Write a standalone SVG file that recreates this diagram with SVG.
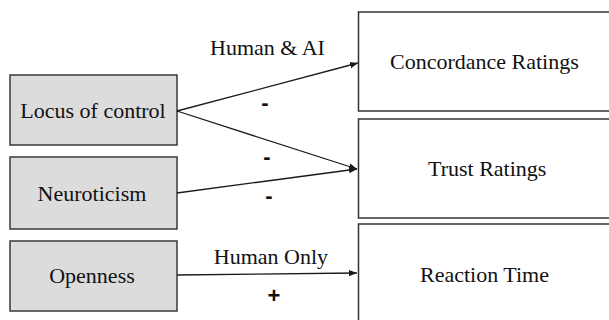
<svg xmlns="http://www.w3.org/2000/svg" width="609" height="320" viewBox="0 0 609 320">
<style>
.src rect{fill:#dcdcdc;stroke:#3a3a3a;stroke-width:1.5}
.dst rect{fill:#ffffff;stroke:#333;stroke-width:1.5}
text{font-family:"Liberation Serif","Times New Roman",serif;font-size:22px;fill:#111}
.mid{text-anchor:middle}
.sign{font-family:"Liberation Sans",Arial,sans-serif;font-weight:bold;text-anchor:middle}
.conn line{stroke:#1a1a1a;stroke-width:1.3;marker-end:url(#ah)}
</style>
<defs>
<marker id="ah" viewBox="0 0 10 10" refX="10" refY="5" markerWidth="8" markerHeight="8" markerUnits="userSpaceOnUse" orient="auto">
<path d="M0,1 L10,5 L0,9 z" fill="#1a1a1a"/>
</marker>
</defs>
<rect width="609" height="320" fill="#fff"/>
<g id="locus" class="src"><rect x="10" y="75" width="167" height="70"/><text class="mid" x="93" y="118">Locus of control</text></g>
<g id="neuroticism" class="src"><rect x="10" y="157" width="167" height="72"/><text class="mid" x="92" y="201">Neuroticism</text></g>
<g id="openness" class="src"><rect x="10" y="241" width="167" height="70"/><text class="mid" x="92" y="283">Openness</text></g>
<g id="concordance" class="dst"><rect x="358.5" y="12" width="260" height="99"/><text x="390" y="69">Concordance Ratings</text></g>
<g id="trust" class="dst"><rect x="358.5" y="119" width="260" height="99"/><text x="428" y="176">Trust Ratings</text></g>
<g id="reaction" class="dst"><rect x="358.5" y="224" width="260" height="110"/><text x="420" y="282">Reaction Time</text></g>
<g id="connectors" class="conn">
<line x1="177" y1="111" x2="358" y2="63"/>
<line x1="177" y1="111" x2="357" y2="169"/>
<line x1="177" y1="193" x2="357" y2="169"/>
<line x1="177" y1="275" x2="357" y2="273"/>
</g>
<g id="labels">
<text class="mid" x="267.5" y="55">Human &amp; AI</text>
<text class="mid" x="271" y="264">Human Only</text>
<text class="sign" x="265" y="110">-</text>
<text class="sign" x="267" y="164">-</text>
<text class="sign" x="269" y="203">-</text>
<text class="sign" x="274" y="303">+</text>
</g>
</svg>
